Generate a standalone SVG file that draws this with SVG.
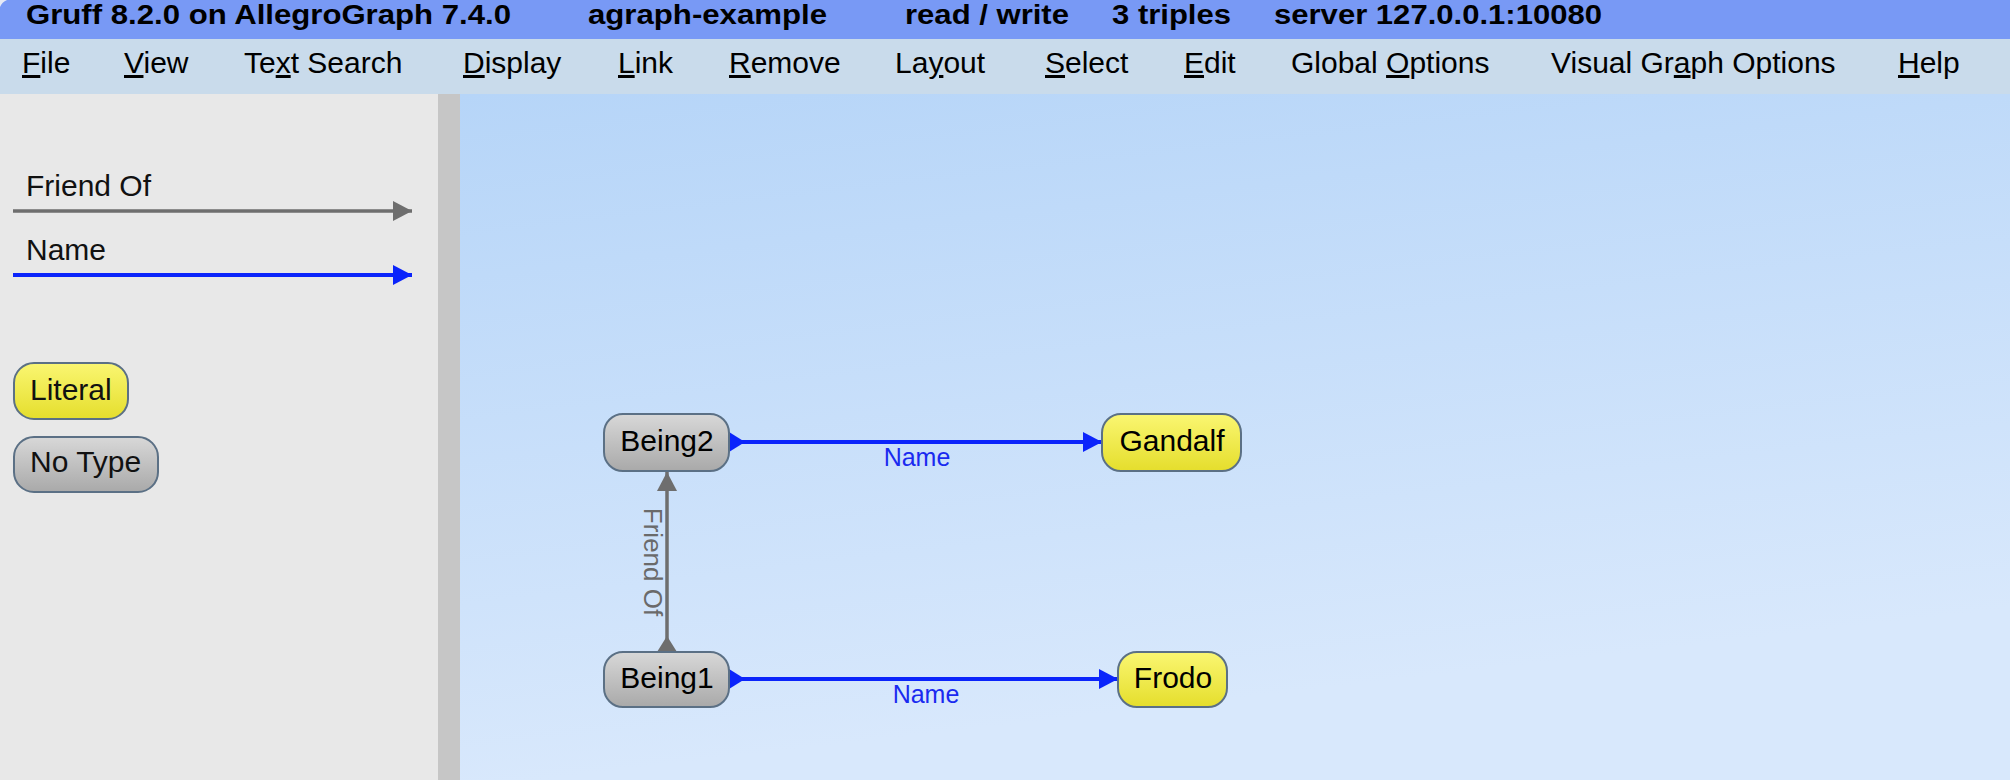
<svg xmlns="http://www.w3.org/2000/svg" width="2010" height="780" viewBox="0 0 2010 780">
  <style>
    .title { font-family: "Liberation Sans", Arial, sans-serif; font-weight: bold; font-size: 27px; fill: #000; }
    .menu { font-family: "Liberation Sans", Arial, sans-serif; font-size: 30px; fill: #000; }
    .u { text-decoration: underline; }
    .leg { font-family: "Liberation Sans", Arial, sans-serif; font-size: 30px; fill: #111; }
    .nodetext { font-family: "Liberation Sans", Arial, sans-serif; font-size: 30px; fill: #000; text-anchor: middle; }
    .lit { fill: url(#gYellow); stroke: #5B7085; stroke-width: 2; }
    .notype { fill: url(#gGray); stroke: #5B7085; stroke-width: 2; }
    .eName { stroke: #0B24FB; stroke-width: 4; fill: none; }
    .eFriend { stroke: #6E6E6E; stroke-width: 3.5; fill: none; }
    .lblName { font-family: "Liberation Sans", Arial, sans-serif; font-size: 25px; fill: #1A2AF0; text-anchor: middle; }
    .lblFriend { font-family: "Liberation Sans", Arial, sans-serif; font-size: 26px; fill: #6A6A6A; text-anchor: middle; }
  </style>
  <defs>
    <linearGradient id="gCanvas" gradientUnits="userSpaceOnUse" x1="460" y1="94" x2="540" y2="780">
      <stop offset="0" stop-color="#B6D5F8"/>
      <stop offset="1" stop-color="#D8E8FC"/>
    </linearGradient>
    <linearGradient id="gYellow" x1="0" y1="0" x2="0" y2="1">
      <stop offset="0" stop-color="#FAF672"/>
      <stop offset="1" stop-color="#E5DE2C"/>
    </linearGradient>
    <linearGradient id="gGray" x1="0" y1="0" x2="0" y2="1">
      <stop offset="0" stop-color="#D8D8D8"/>
      <stop offset="1" stop-color="#A9A9A9"/>
    </linearGradient>
    <marker id="endBlue" markerUnits="userSpaceOnUse" markerWidth="19" markerHeight="20" refX="19" refY="10" orient="auto">
      <path d="M0,0 L19,10 L0,20 z" fill="#0B24FB"/>
    </marker>
    <marker id="tailBlue" markerUnits="userSpaceOnUse" markerWidth="16" markerHeight="20" refX="0" refY="10" orient="auto">
      <path d="M0,0 L16,10 L0,20 z" fill="#0B24FB"/>
    </marker>
    <marker id="endGray" markerUnits="userSpaceOnUse" markerWidth="19" markerHeight="20" refX="19" refY="10" orient="auto">
      <path d="M0,0 L19,10 L0,20 z" fill="#6E6E6E"/>
    </marker>
    <marker id="tailGray" markerUnits="userSpaceOnUse" markerWidth="16" markerHeight="20" refX="0" refY="10" orient="auto">
      <path d="M0,0 L16,10 L0,20 z" fill="#6E6E6E"/>
    </marker>
  </defs>

  <!-- title bar -->
  <rect x="0" y="0" width="2010" height="39" fill="#7899F5"/>
  <path d="M0,0 L7,0 Q2,2 0,7 z" fill="#E6EAF6"/>
  <g id="titlebar">
    <text class="title" x="26" y="24" textLength="485" lengthAdjust="spacingAndGlyphs">Gruff 8.2.0 on AllegroGraph 7.4.0</text>
    <text class="title" x="588" y="24" textLength="239" lengthAdjust="spacingAndGlyphs">agraph-example</text>
    <text class="title" x="905" y="24" textLength="164" lengthAdjust="spacingAndGlyphs">read / write</text>
    <text class="title" x="1112" y="24" textLength="119" lengthAdjust="spacingAndGlyphs">3 triples</text>
    <text class="title" x="1274" y="24" textLength="328" lengthAdjust="spacingAndGlyphs">server 127.0.0.1:10080</text>
  </g>

  <!-- menu bar -->
  <rect x="0" y="39" width="2010" height="55" fill="#C9DBEB"/>
  <g id="menubar">
    <text class="menu" x="22" y="73"><tspan class="u">F</tspan>ile</text>
    <text class="menu" x="124" y="73"><tspan class="u">V</tspan>iew</text>
    <text class="menu" x="244" y="73">Te<tspan class="u">x</tspan>t Search</text>
    <text class="menu" x="463" y="73"><tspan class="u">D</tspan>isplay</text>
    <text class="menu" x="618" y="73"><tspan class="u">L</tspan>ink</text>
    <text class="menu" x="729" y="73"><tspan class="u">R</tspan>emove</text>
    <text class="menu" x="895" y="73">La<tspan class="u">y</tspan>out</text>
    <text class="menu" x="1045" y="73"><tspan class="u">S</tspan>elect</text>
    <text class="menu" x="1184" y="73"><tspan class="u">E</tspan>dit</text>
    <text class="menu" x="1291" y="73">Global <tspan class="u">O</tspan>ptions</text>
    <text class="menu" x="1551" y="73">Visual Gr<tspan class="u">a</tspan>ph Options</text>
    <text class="menu" x="1898" y="73"><tspan class="u">H</tspan>elp</text>
  </g>

  <!-- left panel, splitter, canvas -->
  <rect x="0" y="94" width="438" height="686" fill="#E8E8E8"/>
  <rect x="438" y="94" width="22" height="686" fill="#C6C6C6"/>
  <rect x="460" y="94" width="1550" height="686" fill="url(#gCanvas)"/>

  <!-- legend -->
  <g id="legend">
    <text class="leg" x="26" y="196">Friend Of</text>
    <line x1="13" y1="211" x2="412" y2="211" class="eFriend" stroke-width="4" marker-end="url(#endGray)"/>
    <text class="leg" x="26" y="260">Name</text>
    <line x1="13" y1="275" x2="412" y2="275" class="eName" marker-end="url(#endBlue)"/>
  </g>
  <g id="legend-literal">
    <rect class="lit" x="14" y="363" width="114" height="56" rx="20" ry="20"/>
    <text class="leg" x="30" y="400">Literal</text>
  </g>
  <g id="legend-notype">
    <rect class="notype" x="14" y="437" width="144" height="55" rx="20" ry="20"/>
    <text class="leg" x="30" y="472">No Type</text>
  </g>

  <!-- connectors -->
  <g id="connectors">
    <line class="eName" x1="729" y1="442" x2="1102" y2="442" marker-start="url(#tailBlue)" marker-end="url(#endBlue)"/>
    <text class="lblName" x="917" y="466">Name</text>
    <line class="eName" x1="729" y1="679" x2="1118" y2="679" marker-start="url(#tailBlue)" marker-end="url(#endBlue)"/>
    <text class="lblName" x="926" y="703">Name</text>
    <line class="eFriend" x1="667" y1="652" x2="667" y2="472" marker-start="url(#tailGray)" marker-end="url(#endGray)"/>
    <text class="lblFriend" transform="translate(644,562) rotate(90)" x="0" y="0">Friend Of</text>
  </g>

  <!-- nodes -->
  <g id="node-being2">
    <rect class="notype" x="604" y="414" width="125" height="57" rx="19" ry="19"/>
    <text class="nodetext" x="667" y="451">Being2</text>
  </g>
  <g id="node-being1">
    <rect class="notype" x="604" y="652" width="125" height="55" rx="19" ry="19"/>
    <text class="nodetext" x="667" y="688">Being1</text>
  </g>
  <g id="node-gandalf">
    <rect class="lit" x="1102" y="414" width="139" height="57" rx="19" ry="19"/>
    <text class="nodetext" x="1172" y="451">Gandalf</text>
  </g>
  <g id="node-frodo">
    <rect class="lit" x="1118" y="652" width="109" height="55" rx="19" ry="19"/>
    <text class="nodetext" x="1173" y="688">Frodo</text>
  </g>
</svg>
